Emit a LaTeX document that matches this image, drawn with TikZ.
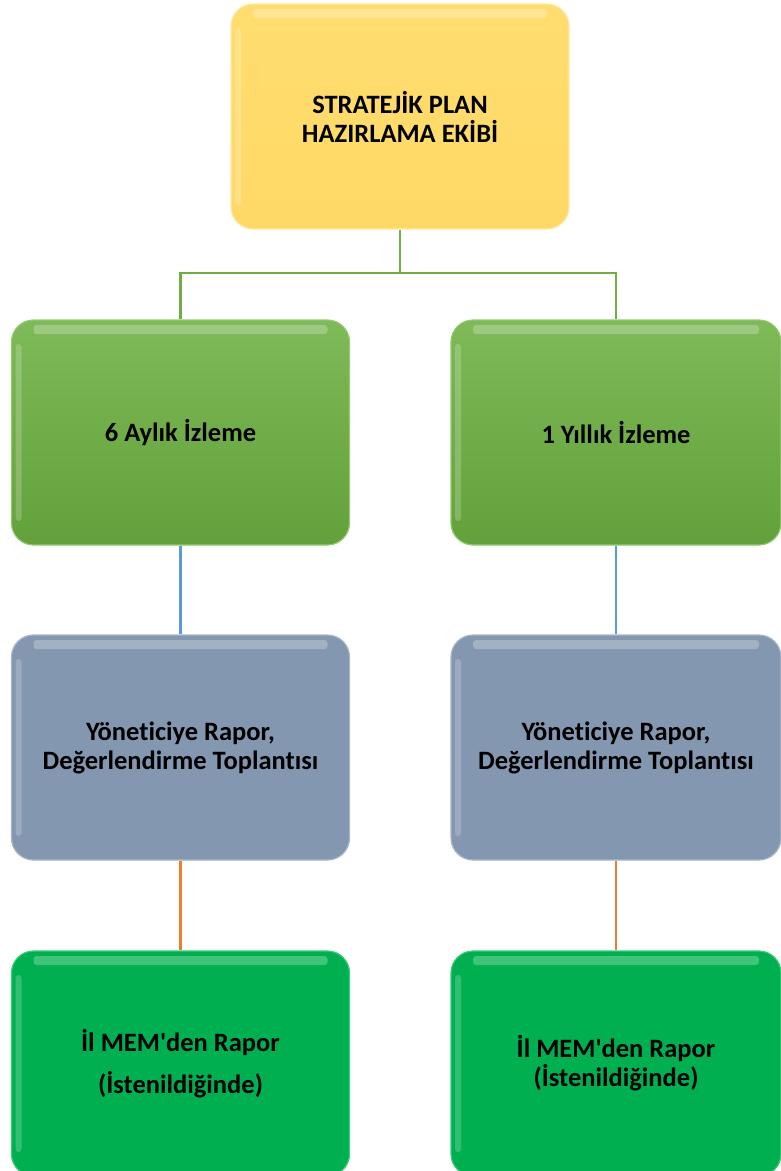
\documentclass[tikz,border=0pt]{standalone}
\usepackage{fontspec}
\setmainfont{Carlito}[Ligatures=NoCommon]
\usepackage{xcolor}

\definecolor{planyellow}{HTML}{FFD966}
\definecolor{planyellowtop}{HTML}{FFDD70}
\definecolor{planyellowrim}{HTML}{FFE9A6}
\definecolor{izlemetop}{HTML}{7EBA58}
\definecolor{izlemebottom}{HTML}{62A13A}
\definecolor{izlemerim}{HTML}{93C972}
\definecolor{raporgray}{HTML}{8497B0}
\definecolor{raporrim}{HTML}{A7B5C8}
\definecolor{memgreen}{HTML}{00B050}
\definecolor{memrim}{HTML}{3CCB7A}
\definecolor{linegreen}{HTML}{70AD47}
\definecolor{lineblue}{HTML}{5B9BD5}
\definecolor{lineorange}{HTML}{ED7D31}

\begin{document}
\begin{tikzpicture}[x=1pt,y=-1pt,
  box/.style={rectangle, rounded corners=22pt, minimum height=225pt,
    align=center, line width=1.2pt,
    font=\bfseries\fontsize{26.5}{29}\selectfont,
    path picture={\fill[white,opacity=0.25,rounded corners=3pt]
      ([xshift=22pt,yshift=-5pt]path picture bounding box.north west) rectangle
      ([xshift=-22pt,yshift=-14pt]path picture bounding box.north east);
      \fill[white,opacity=0.2,rounded corners=3pt]
      ([xshift=4pt,yshift=-24pt]path picture bounding box.north west) rectangle
      ([xshift=10pt,yshift=24pt]path picture bounding box.south west);}},
  leftbox/.style={box, minimum width=338pt},
  rightbox/.style={box, minimum width=330pt},
  planbox/.style={top color=planyellowtop, bottom color=planyellow, draw=planyellowrim},
  izlemebox/.style={top color=izlemetop, bottom color=izlemebottom, draw=izlemerim},
  raporbox/.style={fill=raporgray, draw=raporrim},
  membox/.style={fill=memgreen, draw=memrim},
  link/.style={line width=2.6pt}]
\useasboundingbox (0,0) rectangle (781,1171);

% top
\node[leftbox, planbox] (plan) at (400,116.5) {STRATEJİK PLAN\\HAZIRLAMA EKİBİ};

% level 2
\node[leftbox, izlemebox] (alti) at (180.5,432.5) {6 Aylık İzleme};
\node[rightbox, izlemebox] (bir) at (616,432.5) {1 Yıllık İzleme};

% level 3
\node[leftbox, raporbox] (altirapor) at (180.5,747.5) {Yöneticiye Rapor,\\Değerlendirme Toplantısı};
\node[rightbox, raporbox] (birrapor) at (616,747.5) {Yöneticiye Rapor,\\Değerlendirme Toplantısı};

% level 4
\node[leftbox, membox] (altimem) at (180.5,1063.5) {İl MEM\textquotesingle den Rapor\\[13pt](İstenildiğinde)};
\node[rightbox, membox] (birmem) at (616,1063.5) {İl MEM\textquotesingle den Rapor\\(İstenildiğinde)};

% connectors
\coordinate (split) at (400,273);
\draw[link, linegreen] (plan.south) -- (split);
\draw[link, linegreen] (alti.north) |- (split) -| (bir.north);
\draw[link, lineblue] (alti.south) -- (altirapor.north);
\draw[link, lineblue] (bir.south) -- (birrapor.north);
\draw[link, lineorange] (altirapor.south) -- (altimem.north);
\draw[link, lineorange] (birrapor.south) -- (birmem.north);
\end{tikzpicture}
\end{document}
